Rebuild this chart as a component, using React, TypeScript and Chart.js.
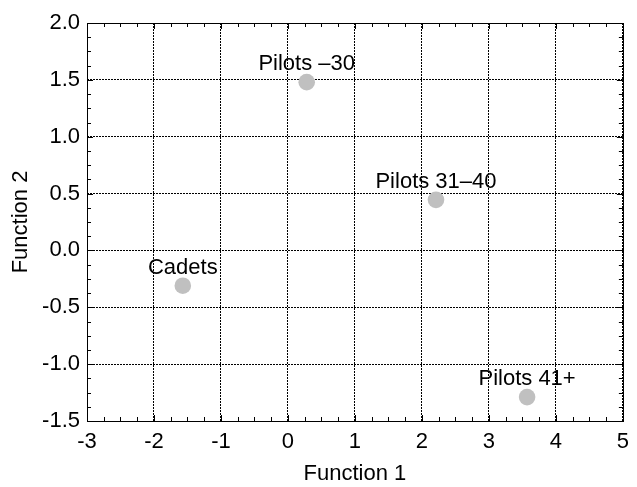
import React, { useEffect, useRef } from "react";
import { Chart, registerables } from "chart.js";

Chart.register(...registerables);

const groups = ["Pilots –30", "Pilots 31–40", "Cadets", "Pilots 41+"];
const function1 = [0.28, 2.21, -1.57, 3.57];
const function2 = [1.48, 0.445, -0.31, -1.29];

const xTicks = [-3, -2, -1, 0, 1, 2, 3, 4, 5];
const yTicks = [-1.5, -1.0, -0.5, 0.0, 0.5, 1.0, 1.5, 2.0];

const FONT = "'Liberation Sans', Arial, sans-serif";

const framePlugin = {
  id: "frame",
  afterDraw(chart: any) {
    const { ctx, chartArea } = chart;
    const xs = chart.scales.x;
    const ys = chart.scales.y;
    ctx.save();
    ctx.strokeStyle = "#000";
    ctx.lineWidth = 1;
    ctx.setLineDash([]);
    ctx.strokeRect(
      Math.round(chartArea.left) + 0.5,
      Math.round(chartArea.top) + 0.5,
      Math.round(chartArea.right - chartArea.left),
      Math.round(chartArea.bottom - chartArea.top)
    );
    ctx.beginPath();
    // x ticks (major & minor), inside, bottom and top
    for (let i = 0; i < xTicks.length - 1; i++) {
      const a = xTicks[i];
      const b = xTicks[i + 1];
      for (let k = 0; k <= 4; k++) {
        const v = a + ((b - a) * k) / 4;
        const px = Math.round(xs.getPixelForValue(v)) + 0.5;
        const len = k === 0 ? 6 : 4;
        ctx.moveTo(px, chartArea.bottom);
        ctx.lineTo(px, chartArea.bottom - len);
        ctx.moveTo(px, chartArea.top);
        ctx.lineTo(px, chartArea.top + len);
      }
    }
    for (let i = 0; i < yTicks.length - 1; i++) {
      const a = yTicks[i];
      const b = yTicks[i + 1];
      for (let k = 0; k <= 4; k++) {
        const v = a + ((b - a) * k) / 4;
        const py = Math.round(ys.getPixelForValue(v)) + 0.5;
        const len = k === 0 ? 6 : 4;
        ctx.moveTo(chartArea.left, py);
        ctx.lineTo(chartArea.left + len, py);
        ctx.moveTo(chartArea.right, py);
        ctx.lineTo(chartArea.right - len, py);
      }
    }
    ctx.stroke();

    // point labels
    const meta = chart.getDatasetMeta(0);
    ctx.fillStyle = "#000";
    ctx.font = `22px ${FONT}`;
    ctx.textAlign = "center";
    ctx.textBaseline = "alphabetic";
    meta.data.forEach((el: any, i: number) => {
      ctx.fillText(groups[i], el.x, el.y - 12);
    });
    ctx.restore();
  },
};

export default function App() {
  const ref = useRef<HTMLCanvasElement>(null);
  useEffect(() => {
    if (!ref.current) return;
    const chart = new Chart(ref.current, {
      type: "scatter",
      data: {
        datasets: [
          {
            data: function1.map((x, i) => ({ x, y: function2[i] })),
            backgroundColor: "#c0c0c0",
            borderColor: "#c0c0c0",
            pointRadius: 8.3,
            pointHoverRadius: 8.3,
            borderWidth: 0,
          },
        ],
      },
      options: {
        animation: false,
        responsive: false,
        devicePixelRatio: 1,
        layout: { padding: { left: 0, right: 13, top: 23, bottom: 0 } },
        plugins: { legend: { display: false }, tooltip: { enabled: false } },
        scales: {
          x: {
            type: "linear",
            min: -3,
            max: 5,
            afterBuildTicks: (s: any) => {
              s.ticks = xTicks.map((v) => ({ value: v }));
            },
            afterFit: (s: any) => {
              s.height = 66;
            },
            grid: { color: "#000", lineWidth: 1, drawTicks: false },
            border: { display: false, dash: [2, 1] },
            ticks: {
              color: "#000",
              padding: 8,
              font: { family: FONT, size: 22 },
              callback: (v: any) => String(v),
            },
            title: {
              display: true,
              text: "Function 1",
              color: "#000",
              font: { family: FONT, size: 22 },
              padding: 0,
            },
          },
          y: {
            type: "linear",
            min: -1.5,
            max: 2,
            afterBuildTicks: (s: any) => {
              s.ticks = yTicks.map((v) => ({ value: v }));
            },
            afterFit: (s: any) => {
              s.width = 87;
            },
            grid: { color: "#000", lineWidth: 1, drawTicks: false },
            border: { display: false, dash: [2, 1] },
            ticks: {
              color: "#000",
              padding: 7,
              font: { family: FONT, size: 22 },
              callback: (v: any) => Number(v).toFixed(1),
            },
            title: {
              display: true,
              text: "Function 2",
              color: "#000",
              font: { family: FONT, size: 22 },
              padding: { top: 8, bottom: 0 },
            },
          },
        },
      },
      plugins: [framePlugin],
    });
    return () => chart.destroy();
  }, []);
  return (
    <div style={{ position: "fixed", left: 0, top: 0, width: 637, height: 487, background: "#fff" }}>
      <canvas ref={ref} width={637} height={487} />
    </div>
  );
}
